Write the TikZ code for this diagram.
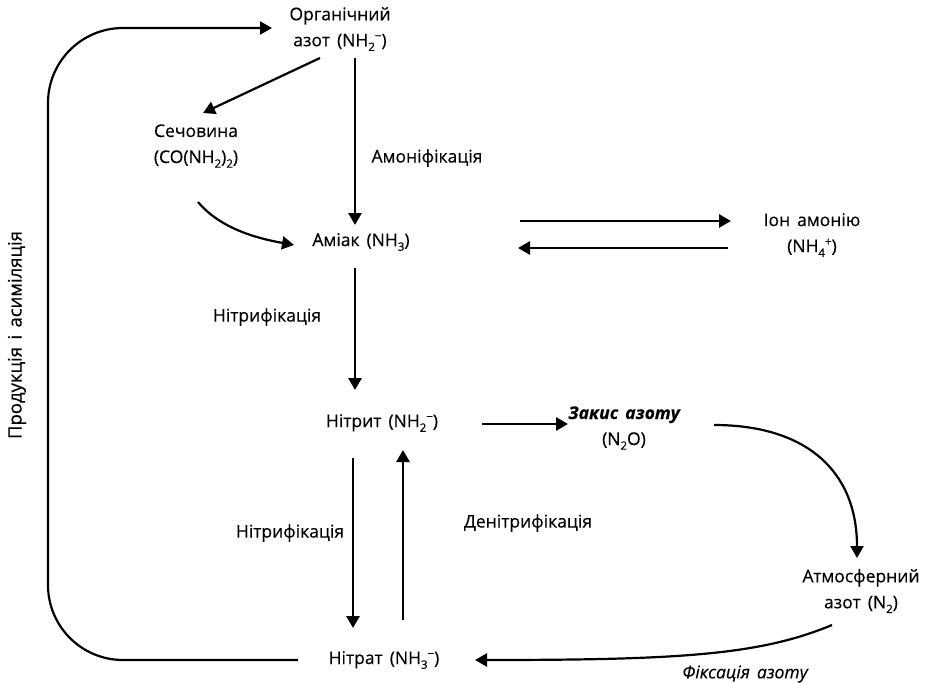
\documentclass[tikz,border=0pt]{standalone}
\usepackage{fontspec}
\setmainfont{Open Sans}[FakeBold=0.35]
\usetikzlibrary{arrows.meta}
\newcommand\sbs[1]{\raisebox{-0.5ex}{\fontsize{11.5}{12}\selectfont #1}}
\newcommand\sps[1]{\raisebox{0.7ex}{\fontsize{11.5}{12}\selectfont #1}}
\newcommand\ws{\hskip0.4em\relax}
\begin{document}
\begin{tikzpicture}[x=1pt,y=-1pt,
  lbl/.style={font=\fontsize{17.5}{26}\selectfont, align=center, inner sep=1pt},
  arr/.style={line width=2.8pt, -{Triangle[length=12pt,width=13pt]}},
  thinarr/.style={line width=2.2pt, -{Triangle[length=12pt,width=13pt]}}]
\useasboundingbox (0,0) rectangle (941,682);
% nodes
\node[lbl] (org) at (340,29) {Органічний\\азот\ws(NH\sbs{2}\sps{−})};
\node[lbl] (sec) at (196,146) {Сечовина\\(CO(NH\sbs{2})\sbs{2})};
\node[lbl] (amm) at (361,242) {Аміак\ws(NH\sbs{3})};
\node[lbl] (ion) at (812,235) {Іон\ws амонію\\(NH\sbs{4}\sps{+})};
\node[lbl] (nitrit) at (382,423) {Нітрит\ws(NH\sbs{2}\sps{−})};
\node[lbl, font=\fontsize{17.5}{26}\selectfont\itshape\bfseries] (zakis) at (624,428) {Закис\ws азоту\\{\upshape\mdseries (N\sbs{2}O)}};
\node[lbl] (atm) at (861,591) {Атмосферний\\азот\ws(N\sbs{2})};
\node[lbl] (nitrat) at (384,660) {Нітрат\ws(NH\sbs{3}\sps{−})};
% labels
\node[lbl] (lamon) at (427,158) {Амоніфікація};
\node[lbl] (lnitr1) at (267,317) {Нітрифікація};
\node[lbl] (lnitr2) at (290,533) {Нітрифікація};
\node[lbl] (ldenitr) at (528,523) {Денітрифікація};
\node[lbl, font=\fontsize{17.5}{26}\selectfont\itshape] (lfix) at (745,674) {Фіксація\ws азоту};
\node[lbl, rotate=90, font=\fontsize{18.5}{26}\selectfont] (lprod) at (17,335) {Продукція\ws і\ws асиміляція};
% connectors
\draw[thinarr] ([shift={(-20,29)}]org.center) -- ([shift={(7,-33)}]sec.center);
\draw[arr] ([shift={(15,29)}]org.center) -- ([shift={(-6,-17)}]amm.center);
\draw[thinarr] ([shift={(2,56)}]sec.center) .. controls (220,228) and (255,238) .. ([shift={(-67,3)}]amm.center);
\draw[arr] ([shift={(159,-21)}]amm.center) -- ([shift={(-81,-14)}]ion.center);
\draw[arr] ([shift={(-84,13)}]ion.center) -- ([shift={(157,6)}]amm.center);
\draw[arr] ([shift={(-6,26)}]amm.center) -- ([shift={(-27,-33)}]nitrit.center);
\draw[arr] ([shift={(100,1)}]nitrit.center) -- ([shift={(-56,-4)}]zakis.center);
\draw[thinarr] ([shift={(90,-3)}]zakis.center) .. controls (805,425) and (857,470) .. ([shift={(-4,-33)}]atm.center);
\draw[thinarr] ([shift={(-29,34)}]atm.center) .. controls (760,655) and (680,660) .. ([shift={(91,0)}]nitrat.center);
\draw[arr] ([shift={(-31,-202)}]nitrat.center) -- ([shift={(-31,-32)}]nitrat.center);
\draw[arr] ([shift={(21,197)}]nitrit.center) -- ([shift={(21,27)}]nitrit.center);
\coordinate (lb) at (48,660);
\coordinate (lt) at (48,28);
\draw[thinarr, rounded corners=75pt] ([shift={(-86,0)}]nitrat.center) -- (lb) -- (lt) -- ([shift={(-68,-1)}]org.center);
\end{tikzpicture}
\end{document}
